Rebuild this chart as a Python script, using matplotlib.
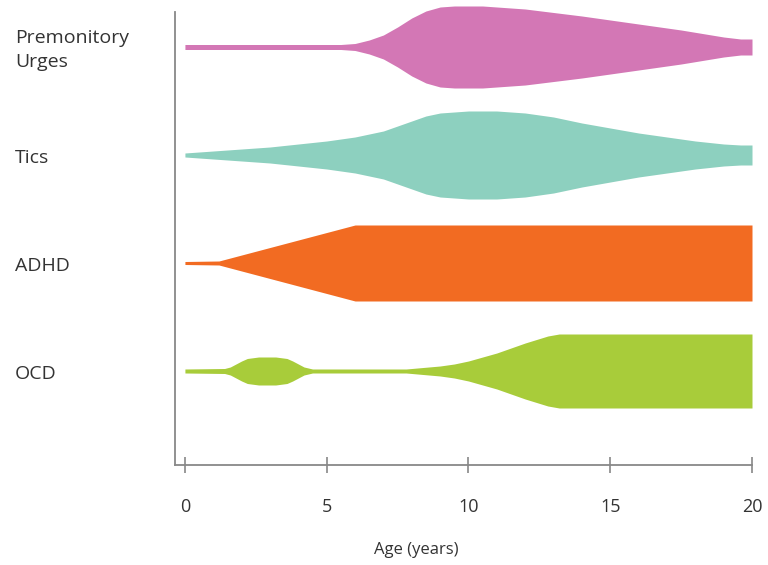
import numpy as np
import matplotlib.pyplot as plt

# Categories, top to bottom
labels = ["Premonitory\nUrges", "Tics", "ADHD", "OCD"]
colors = ["#d377b5", "#8dd0bf", "#f26b22", "#a8cc3a"]

# Half-widths of each band (pixels), by age
pu_age = [0, 5.5, 6.0, 6.5, 7.0, 7.5, 8.0, 8.5, 9.0, 9.5, 10.5, 12, 14, 16, 17.5, 19, 19.6, 20]
pu_w = [2.5, 2.5, 3.5, 7, 12, 20, 29, 36, 40, 41, 41, 38, 31, 23, 17, 10, 8, 8]

tics_age = [0, 1, 2, 3, 4, 5, 6, 7, 7.5, 8, 8.5, 9, 10, 11, 12, 13, 14, 15, 16, 17, 18, 19, 19.6, 20]
tics_w = [2, 4, 6, 8, 11, 14, 18, 24, 29, 34, 39, 42, 44, 44, 42, 38, 32, 27, 22, 18, 14, 11, 10, 10]

adhd_age = [0, 1.2, 6.0, 20]
adhd_w = [1.5, 2, 38, 38]

ocd_age = [0, 1.4, 1.6, 1.8, 2.0, 2.2, 2.6, 3.2, 3.6, 3.8, 4.0, 4.2, 4.5, 7.8, 8.2, 9, 9.5, 10, 11, 12, 12.8, 13.2, 20]
ocd_w = [2, 2.5, 4, 7, 10, 12.5, 14, 14, 12.5, 10, 7, 4, 2, 2, 3, 5, 7, 10, 18, 28, 35, 37, 37]

ages = [pu_age, tics_age, adhd_age, ocd_age]
widths = [pu_w, tics_w, adhd_w, ocd_w]
row_scale = 1 / 108.0   # one row is ~108 px tall

fig = plt.figure(figsize=(7.68, 5.65), dpi=100)
ax = fig.add_axes([175 / 768, 1 - 465 / 565, (752 - 175) / 768, (465 - 12) / 565])

n = len(labels)
for i in range(n):
    yc = n - 1 - i
    a = np.array(ages[i], dtype=float)
    w = np.array(widths[i], dtype=float) * row_scale
    ax.fill_between(a, yc - w, yc + w, color=colors[i], lw=0, clip_on=False)
    ax.text(-160 / 577, yc - 0.03, labels[i], transform=ax.get_yaxis_transform(),
            ha="left", va="center", fontsize=14, linespacing=1.45,
            color="#333333", family="Open Sans")

ax.set_xlim(-0.35, 20)
ax.set_ylim(-94 / 108, 3 + 35 / 108)

for s in ["top", "right"]:
    ax.spines[s].set_visible(False)
for s in ["left", "bottom"]:
    ax.spines[s].set_color("#888888")
    ax.spines[s].set_linewidth(1.3)

ax.set_yticks([])
ax.set_xticks([0, 5, 10, 15, 20])
ax.tick_params(axis="x", direction="inout", length=11, width=1.2, color="#888888",
               pad=18, labelsize=13, labelcolor="#333333")
for t in ax.get_xticklabels():
    t.set_family("Open Sans")
ax.set_xlabel("Age (years)", fontsize=12, color="#333333", family="Open Sans")
ax.xaxis.set_label_coords((416 - 175) / 577, -(550 - 465) / 453, transform=ax.transAxes)
ax.xaxis.label.set_va("center")

fig.savefig("out.png", dpi=100)
